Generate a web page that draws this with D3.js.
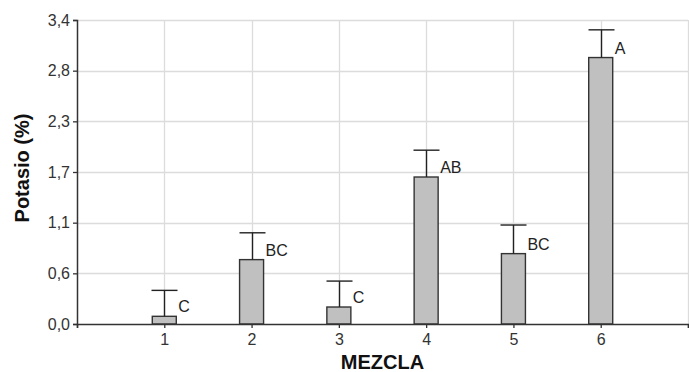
<!DOCTYPE html>
<html>
<head>
<meta charset="utf-8">
<script src="https://cdn.jsdelivr.net/npm/d3@7/dist/d3.min.js"></script>
<style>
  html, body { margin: 0; padding: 0; background: #fff; }
  svg { display: block; font-family: "Liberation Sans", Arial, sans-serif; }
</style>
</head>
<body>
<svg id="chart" width="689" height="372"></svg>
<script>
// Potassium content by mixture: mean, standard deviation and significance group
const mezclas = [1, 2, 3, 4, 5, 6];
const potasio = [0.086, 0.72, 0.19, 1.644, 0.787, 2.98];
const desvio = [0.29, 0.30, 0.29, 0.30, 0.32, 0.31];
const grupos = ["C", "BC", "C", "AB", "BC", "A"];
const yTickValues = [0, 0.5667, 1.1333, 1.7, 2.2667, 2.8333, 3.4];
const yTickLabels = ["0,0", "0,6", "1,1", "1,7", "2,3", "2,8", "3,4"];
const xGridValues = [1, 2, 3, 4, 5, 6, 7];

const svg = d3.select("#chart");
const plot = { left: 77, right: 688, top: 20, bottom: 324 };

const x = d3.scaleLinear().domain([0, 7]).range([plot.left, plot.right]);
const y = d3.scaleLinear().domain([0, 3.4]).range([plot.bottom, plot.top]);
const barW = 24;

// grid
svg.append("g").selectAll("line").data(yTickValues.slice(1)).join("line")
  .attr("x1", plot.left).attr("x2", plot.right)
  .attr("y1", d => Math.round(y(d)) + 0.5).attr("y2", d => Math.round(y(d)) + 0.5)
  .attr("stroke", "#dcdcdc").attr("stroke-width", 1.3);
svg.append("g").selectAll("line").data(xGridValues).join("line")
  .attr("x1", d => Math.round(x(d)) + 0.5).attr("x2", d => Math.round(x(d)) + 0.5)
  .attr("y1", plot.top).attr("y2", plot.bottom)
  .attr("stroke", "#dcdcdc").attr("stroke-width", 1.3);

// bars
svg.append("g").selectAll("rect").data(mezclas).join("rect")
  .attr("x", (d) => x(d) - barW / 2)
  .attr("width", barW)
  .attr("y", (d, i) => y(potasio[i]))
  .attr("height", (d, i) => plot.bottom - y(potasio[i]))
  .attr("fill", "#c0c0c0").attr("stroke", "#333").attr("stroke-width", 1.4);

// error bars (upper only)
const err = svg.append("g").attr("stroke", "#222").attr("stroke-width", 1.4);
mezclas.forEach((m, i) => {
  const cx = Math.round(x(m)) + 0.5;
  err.append("line").attr("x1", cx).attr("x2", cx)
    .attr("y1", y(potasio[i])).attr("y2", y(potasio[i] + desvio[i]));
  err.append("line").attr("x1", cx - 13).attr("x2", cx + 13)
    .attr("y1", y(potasio[i] + desvio[i])).attr("y2", y(potasio[i] + desvio[i]));
});

// significance letters
svg.append("g").selectAll("text").data(mezclas).join("text")
  .attr("x", d => x(d) + 14)
  .attr("y", (d, i) => y(potasio[i]) - 4)
  .attr("font-size", 16).attr("fill", "#222")
  .text((d, i) => grupos[i]);

// axes
const xAxis = d3.axisBottom(x).tickValues([0, ...mezclas, 7]).tickSize(4)
  .tickFormat(d => (d >= 1 && d <= 6) ? String(d) : "");
const gx = svg.append("g").attr("transform", `translate(0,${plot.bottom})`).call(xAxis);
gx.select(".domain").attr("stroke", "#333").attr("stroke-width", 1.5);
gx.selectAll(".tick line").attr("stroke", "#333").attr("stroke-width", 1.3);
gx.selectAll(".tick text").attr("font-size", 16).attr("fill", "#333").attr("dy", "0.9em")
  .attr("font-family", "Liberation Sans, Arial, sans-serif");

const yAxis = d3.axisLeft(y).tickValues(yTickValues).tickSize(4)
  .tickFormat((d, i) => yTickLabels[i]);
const gy = svg.append("g").attr("transform", `translate(${plot.left},0)`).call(yAxis);
gy.select(".domain").attr("stroke", "#333").attr("stroke-width", 1.5);
gy.selectAll(".tick line").attr("stroke", "#333").attr("stroke-width", 1.3);
gy.selectAll(".tick text").attr("font-size", 16).attr("fill", "#333")
  .attr("font-family", "Liberation Sans, Arial, sans-serif");

// axis titles
svg.append("text").attr("x", (plot.left + plot.right) / 2).attr("y", 369)
  .attr("text-anchor", "middle").attr("font-size", 20).attr("font-weight", "bold")
  .attr("fill", "#111").text("MEZCLA");
svg.append("text").attr("transform", `translate(29,${(plot.top + plot.bottom) / 2 - 4}) rotate(-90)`)
  .attr("text-anchor", "middle").attr("font-size", 20).attr("font-weight", "bold")
  .attr("fill", "#111").text("Potasio (%)");
</script>
</body>
</html>
